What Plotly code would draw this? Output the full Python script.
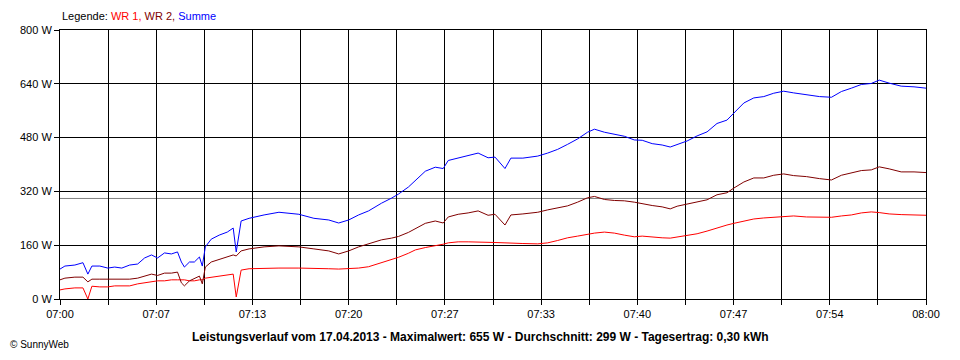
import plotly.graph_objects as go

# Time in minutes after 07:00
minutes = [0, 0.34, 1.03, 1.59, 1.93, 2.21, 2.76, 3.31, 3.79, 4.28, 4.83, 5.38, 5.86, 6.34, 6.76,
           7.24, 7.72, 8.14, 8.41, 8.62, 8.97, 9.31, 9.66, 9.86, 10.07, 10.48, 11.03, 11.59, 12.0,
           12.21, 12.55, 13.1, 14.14, 15.17, 16.55, 17.59, 18.62, 19.31, 20.0, 20.69, 21.38, 22.28,
           22.97, 23.45, 24.14, 24.62, 25.31, 26.0, 26.55, 26.9, 27.59, 28.28, 28.97, 29.66, 30.14,
           30.83, 31.24, 32.07, 33.1, 33.79, 34.48, 35.17, 35.86, 36.55, 37.03, 37.72, 38.41, 39.1,
           39.79, 40.34, 41.03, 41.72, 42.28, 42.76, 43.45, 44.14, 44.83, 45.52, 46.21, 46.69, 47.38,
           48.07, 48.76, 49.45, 50.14, 50.83, 51.72, 52.62, 53.45, 54.14, 54.83, 55.52, 56.21, 56.76,
           57.45, 58.28, 59.17, 60]

summe = [89, 98, 101, 108, 74, 98, 98, 92, 95, 92, 101, 104, 122, 131, 122,
         137, 134, 140, 110, 95, 110, 110, 125, 98, 155, 178, 190, 199, 211,
         140, 232, 240, 250, 258, 252, 240, 235, 226, 235, 250, 262, 285,
         300, 312, 333, 352, 380, 392, 388, 412, 420, 428, 434, 420, 422,
         388, 419, 419, 425, 434, 445, 460, 476, 496, 505, 496, 490, 484,
         473, 472, 462, 458, 452, 460, 470, 485, 497, 522, 532, 553, 583,
         598, 602, 612, 618, 613, 608, 602, 600, 617, 627, 638, 641, 651,
         642, 633, 631, 627]

wr1 = [27, 30, 33, 33, 0, 38, 36, 36, 39, 39, 39, 45, 48, 51, 54,
       54, 57, 57, 57, 57, 54, 54, 57, 57, 62, 65, 68, 71, 74,
       6, 86, 90, 92, 92, 92, 90, 90, 89, 90, 92, 96, 108,
       117, 124, 136, 146, 153, 158, 163, 167, 170, 170, 170, 170, 168,
       167, 167, 165, 164, 167, 174, 182, 187, 193, 196, 199, 196, 190,
       185, 187, 184, 182, 181, 184, 188, 194, 202, 212, 220, 225, 232,
       238, 241, 243, 245, 247, 244, 244, 243, 247, 250, 256, 259, 257,
       253, 251, 250, 249]

wr2 = [57, 62, 65, 65, 51, 59, 59, 59, 59, 59, 59, 62, 68, 74, 70,
       77, 77, 80, 48, 39, 54, 62, 68, 45, 95, 110, 118, 125, 131,
       128, 143, 149, 155, 158, 155, 149, 143, 134, 143, 155, 164, 176,
       181, 186, 198, 209, 225, 232, 226, 244, 252, 256, 262, 249, 252,
       220, 250, 253, 258, 265, 271, 277, 288, 301, 305, 296, 293, 292,
       288, 283, 278, 274, 268, 276, 282, 290, 295, 310, 316, 330, 348,
       360, 360, 368, 372, 367, 364, 358, 354, 368, 374, 382, 384, 393,
       387, 378, 378, 376]

durchschnitt = 299
x_grid_minutes = [i * 10 / 3 for i in range(19)]
x_tick_labels = ["07:00", "", "07:07", "", "07:13", "", "07:20", "", "07:27", "",
                 "07:33", "", "07:40", "", "07:47", "", "07:54", "", "08:00"]
y_ticks = [0, 160, 320, 480, 640, 800]

title_text = ("Leistungsverlauf vom 17.04.2013 - Maximalwert: 655 W - "
              "Durchschnitt: 299 W - Tagesertrag: 0,30 kWh")

FONT = "Liberation Sans, Arial, sans-serif"

fig = go.Figure()
fig.add_trace(go.Scatter(x=minutes, y=wr1, mode="lines", name="WR 1",
                         line=dict(color="#FF0000", width=1)))
fig.add_trace(go.Scatter(x=minutes, y=wr2, mode="lines", name="WR 2",
                         line=dict(color="#800000", width=1)))
fig.add_trace(go.Scatter(x=minutes, y=summe, mode="lines", name="Summe",
                         line=dict(color="#0000FF", width=1)))

fig.add_hline(y=durchschnitt, line=dict(color="#808080", width=1), layer="below")

# page body has an 8px margin; figure sized to fit the 960x360 window
fig.update_layout(
    width=944, height=344,
    margin=dict(l=52, r=22, t=22, b=53),
    paper_bgcolor="white", plot_bgcolor="white",
    showlegend=False,
    font=dict(family=FONT, size=11, color="black"),
)

fig.update_xaxes(
    range=[0, 60],
    tickmode="array", tickvals=x_grid_minutes, ticktext=x_tick_labels,
    showgrid=True, gridcolor="black", gridwidth=1,
    ticks="outside", ticklen=5, tickcolor="black", tickwidth=1,
    showline=True, linecolor="black", linewidth=1, mirror=True,
    zeroline=False, tickfont=dict(family=FONT, size=11, color="black"),
    fixedrange=True,
)
fig.update_yaxes(
    range=[0, 800],
    tickmode="array", tickvals=y_ticks, ticktext=[f"{v} W" for v in y_ticks],
    showgrid=True, gridcolor="black", gridwidth=1,
    ticks="outside", ticklen=5, tickcolor="black", tickwidth=1,
    showline=True, linecolor="black", linewidth=1, mirror=True,
    zeroline=False, tickfont=dict(family=FONT, size=11, color="black"),
    fixedrange=True,
)

fig.add_annotation(
    xref="paper", yref="paper", x=0, y=1, yshift=6, xanchor="left", yanchor="bottom",
    showarrow=False, font=dict(family=FONT, size=11, color="black"),
    text=("Legende: <span style='color:#FF0000'>WR 1,</span> "
          "<span style='color:#800000'>WR 2,</span> "
          "<span style='color:#0000FF'>Summe</span>"),
)
fig.add_annotation(
    xref="paper", yref="paper", x=0.485, y=0, yshift=-29, xanchor="center", yanchor="top",
    showarrow=False, font=dict(family=FONT, size=12, color="black"),
    text=f"<b>{title_text}</b>",
)
fig.add_annotation(
    xref="paper", yref="paper", x=-52 / 870, y=0, yshift=-53, xanchor="left", yanchor="bottom",
    showarrow=False, font=dict(family=FONT, size=10, color="black"),
    text="© SunnyWeb",
)

fig.write_html("out.html")
